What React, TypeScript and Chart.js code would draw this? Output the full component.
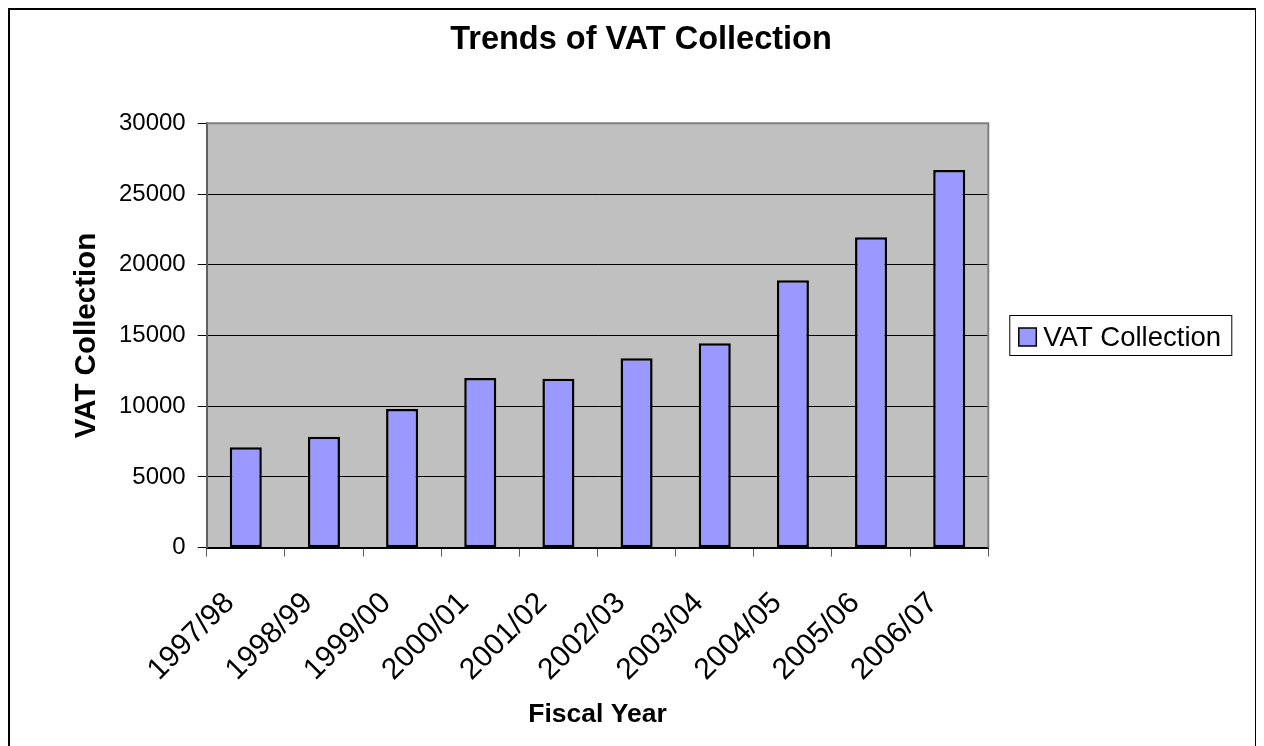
import React, { useEffect, useRef } from "react";
import { Chart, registerables } from "chart.js";

Chart.register(...registerables);

const chartTitle = "Trends of VAT Collection";
const xAxisTitle = "Fiscal Year";
const yAxisTitle = "VAT Collection";
const seriesLabel = "VAT Collection";
const categories = [
  "1997/98", "1998/99", "1999/00", "2000/01", "2001/02",
  "2002/03", "2003/04", "2004/05", "2005/06", "2006/07",
];
const vatValues = [7100, 7850, 9800, 12000, 11950, 13400, 14450, 18900, 21950, 26700];
const yTicks = { min: 0, max: 30000, step: 5000 };

const FONT = "'Liberation Sans', Arial, Helvetica, sans-serif";
const W = 1245;
const H = 736;

const decorPlugin = {
  id: "decor",
  beforeDraw(chart: any) {
    const { ctx, chartArea: a } = chart;
    ctx.save();
    ctx.fillStyle = "#C0C0C0";
    ctx.fillRect(a.left, a.top, a.right - a.left, a.bottom - a.top);
    ctx.restore();
  },
  afterDraw(chart: any) {
    const { ctx, chartArea: a } = chart;
    ctx.save();
    // plot border top/right
    ctx.strokeStyle = "#808080";
    ctx.lineWidth = 2;
    ctx.beginPath();
    ctx.moveTo(a.left, a.top);
    ctx.lineTo(a.right, a.top);
    ctx.lineTo(a.right, a.bottom);
    ctx.stroke();

    // title
    ctx.fillStyle = "#000";
    ctx.font = `bold 32.5px ${FONT}`;
    ctx.textAlign = "center";
    ctx.textBaseline = "alphabetic";
    ctx.fillText(chartTitle, 631, 39);

    // legend
    const ds = chart.data.datasets[0];
    const bx = a.right + 21;
    const bw = 223;
    const bh = 41;
    const by = (a.top + a.bottom) / 2 - bh / 2;
    ctx.fillStyle = "#fff";
    ctx.fillRect(bx, by, bw, bh);
    ctx.strokeStyle = "#000";
    ctx.lineWidth = 1;
    ctx.strokeRect(bx + 0.5, by + 0.5, bw - 1, bh - 1);
    ctx.fillStyle = ds.backgroundColor;
    ctx.fillRect(bx + 9.5, by + 13, 17.5, 18);
    ctx.strokeStyle = "#000";
    ctx.lineWidth = 1.5;
    ctx.strokeRect(bx + 9.5, by + 13, 17.5, 18);
    ctx.fillStyle = "#000";
    ctx.font = `27.5px ${FONT}`;
    ctx.textAlign = "left";
    ctx.textBaseline = "alphabetic";
    ctx.fillText(ds.label, bx + 34, by + 31);
    ctx.restore();
  },
};

export default function App() {
  const ref = useRef<HTMLCanvasElement | null>(null);

  useEffect(() => {
    document.documentElement.style.overflow = "hidden";
    document.body.style.overflow = "hidden";
    if (!ref.current) return;
    const chart = new Chart(ref.current, {
      type: "bar",
      data: {
        labels: categories,
        datasets: [
          {
            label: seriesLabel,
            data: vatValues,
            backgroundColor: "#9999FF",
            borderColor: "#000000",
            borderWidth: 2.5,
            borderSkipped: false,
            categoryPercentage: 1,
            barPercentage: 0.41,
          },
        ],
      },
      options: {
        responsive: false,
        animation: false,
        devicePixelRatio: 1,
        layout: { padding: { left: 50, top: 113.3, right: W - 978.3, bottom: 0 } },
        plugins: {
          legend: { display: false },
          title: { display: false },
          tooltip: { enabled: false },
        },
        scales: {
          x: {
            afterFit(scale: any) {
              scale.height = H - 537.7;
            },
            grid: {
              display: true,
              offset: true,
              drawOnChartArea: false,
              drawTicks: true,
              tickLength: 9,
              color: "#606060",
              lineWidth: 1,
            },
            border: { display: true, color: "#000", width: 2 },
            ticks: {
              color: "#000",
              font: { family: FONT, size: 30 },
              minRotation: 45,
              maxRotation: 45,
              padding: 29,
              labelOffset: -16,
              autoSkip: false,
            },
            title: {
              display: true,
              text: xAxisTitle,
              color: "#000",
              font: { family: FONT, size: 26.5, weight: "bold" },
              padding: { top: 0, bottom: 15 },
            },
          },
          y: {
            min: yTicks.min,
            max: yTicks.max,
            afterFit(scale: any) {
              scale.width = 196.7 - 50;
            },
            grid: {
              color: "#000",
              lineWidth: 1,
              tickLength: 9,
            },
            border: { display: true, color: "#606060", width: 2 },
            ticks: {
              stepSize: yTicks.step,
              color: "#000",
              font: { family: FONT, size: 24 },
              padding: 12,
              callback: (v: any) => String(v),
            },
            title: {
              display: true,
              text: yAxisTitle,
              color: "#000",
              font: { family: FONT, size: 29.5, weight: "bold" },
              padding: { top: 9, bottom: 0 },
            },
          },
        },
      },
      plugins: [decorPlugin],
    });
    return () => chart.destroy();
  }, []);

  return (
    <div
      style={{
        width: W,
        height: H,
        borderTop: "2px solid #000",
        borderLeft: "2px solid #000",
        borderRight: "2px solid #000",
        background: "#fff",
      }}
    >
      <canvas ref={ref} width={W} height={H} style={{ display: "block", width: W, height: H }} />
    </div>
  );
}
